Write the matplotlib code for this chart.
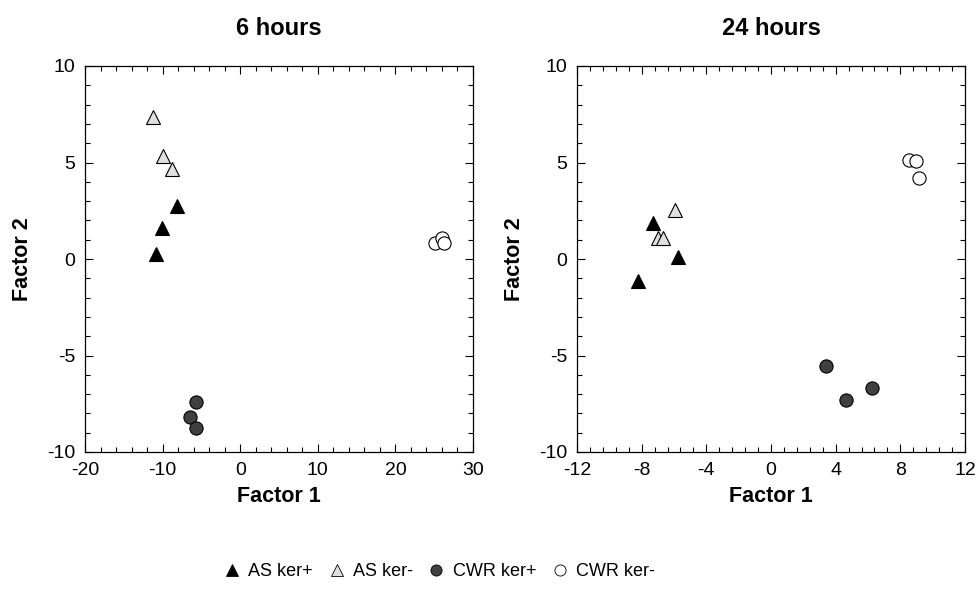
import matplotlib.pyplot as plt
from matplotlib.ticker import MultipleLocator
from matplotlib.lines import Line2D

plt.rcParams['font.family'] = ['Liberation Sans', 'DejaVu Sans']
plt.rcParams['axes.unicode_minus'] = False

groups = ['AS ker+', 'AS ker-', 'CWR ker+', 'CWR ker-']
markers = ['^', '^', 'o', 'o']
faces = ['black', '#e0e0e0', '#404040', 'white']

# 6 hours
x6 = {'AS ker+': [-8.1, -10.1, -10.9],
      'AS ker-': [-11.3, -10.0, -8.8],
      'CWR ker+': [-5.7, -6.5, -5.7],
      'CWR ker-': [25.1, 26.0, 26.2]}
y6 = {'AS ker+': [2.75, 1.6, 0.25],
      'AS ker-': [7.35, 5.35, 4.65],
      'CWR ker+': [-7.4, -8.2, -8.75],
      'CWR ker-': [0.85, 1.1, 0.85]}

# 24 hours
x24 = {'AS ker+': [-7.3, -5.75, -8.2],
       'AS ker-': [-5.95, -7.0, -6.7],
       'CWR ker+': [3.4, 4.65, 6.25],
       'CWR ker-': [8.55, 8.95, 9.15]}
y24 = {'AS ker+': [1.85, 0.1, -1.15],
       'AS ker-': [2.55, 1.1, 1.1],
       'CWR ker+': [-5.55, -7.3, -6.7],
       'CWR ker-': [5.15, 5.1, 4.2]}

fig = plt.figure(figsize=(9.78, 5.96), dpi=100)
ax1 = fig.add_axes([85/978, 1-452/596, 388/978, 386/596])
ax2 = fig.add_axes([577/978, 1-452/596, 388/978, 386/596])

def panel(ax, xs, ys, title, xlim, xmaj, xmin):
    for g, m, fc in zip(groups, markers, faces):
        ax.plot(xs[g], ys[g], linestyle='none', marker=m, markersize=9.5,
                markerfacecolor=fc, markeredgecolor='black', markeredgewidth=0.8)
    ax.set_xlim(*xlim)
    ax.set_ylim(-10, 10)
    ax.xaxis.set_major_locator(MultipleLocator(xmaj))
    ax.xaxis.set_minor_locator(MultipleLocator(xmin))
    ax.yaxis.set_major_locator(MultipleLocator(5))
    ax.yaxis.set_minor_locator(MultipleLocator(1))
    ax.tick_params(which='both', direction='in', top=True, right=True,
                   labelsize=14, width=0.8)
    ax.tick_params(axis='x', pad=7)
    ax.tick_params(axis='y', pad=7)
    ax.tick_params(which='major', length=6)
    ax.tick_params(which='minor', length=3.5)
    for s in ax.spines.values():
        s.set_linewidth(0.9)
    ax.set_title(title, fontsize=17, fontweight='bold', pad=22)
    ax.set_xlabel('Factor 1', fontsize=15.5, fontweight='bold', labelpad=5)
    ax.set_ylabel('Factor 2', fontsize=15.5, fontweight='bold', labelpad=10)

panel(ax1, x6, y6, '6 hours', (-20, 30), 10, 2)
panel(ax2, x24, y24, '24 hours', (-12, 12), 4, 0.8)

handles = [Line2D([], [], linestyle='none', marker=m, markersize=8,
                  markerfacecolor=fc, markeredgecolor='black', markeredgewidth=0.6)
           for m, fc in zip(markers, faces)]
fig.legend(handles, groups, loc='center', bbox_to_anchor=(438/978, 1-572/596),
           ncol=4, frameon=False, fontsize=13, handletextpad=0.3,
           columnspacing=0.7, handlelength=1.2)

fig.savefig('out.png', dpi=100)
